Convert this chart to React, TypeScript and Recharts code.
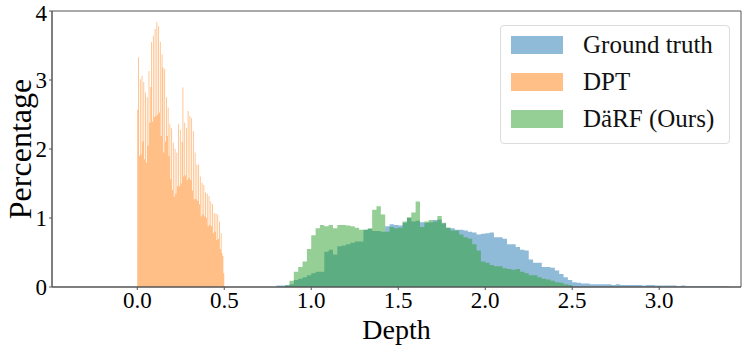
import {
  ComposedChart,
  Area,
  XAxis,
  YAxis,
  Legend,
  ReferenceArea,
} from 'recharts';

// histogram bins: left edge = start + i * bin
const DPT_START = 0;
const DPT_BIN = 0.005;
const dptValues = [
  2.57, 3.33, 1.9, 3.01, 1.92, 3.06, 2.11, 2.97, 1.85, 2.82,
  1.8, 2.75, 2.05, 3.13, 2.38, 2.9, 3.55, 2.4, 3.64, 2.46,
  3.74, 2.48, 3.84, 2.5, 3.78, 2.53, 3.55, 2.19, 3.37, 3.18,
  1.95, 3.16, 2.11, 2.75, 2.19, 2.6, 1.9, 2.36, 1.56, 2.3,
  1.41, 2.09, 1.31, 2.0, 1.35, 1.95, 1.46, 2.36, 1.46, 2.28,
  1.5, 2.1, 2.89, 1.6, 2.38, 1.62, 2.3, 1.55, 2.55, 1.58,
  2.48, 1.55, 2.45, 1.4, 2.26, 1.27, 1.95, 1.27, 1.77, 1.25,
  1.77, 1.2, 1.6, 1.02, 1.51, 1.05, 1.48, 1.02, 1.37, 1.0,
  1.35, 0.88, 1.32, 0.9, 1.24, 0.88, 1.2, 0.78, 1.07, 0.8,
  1.07, 0.68, 1.05, 0.7, 0.95, 0.55, 0.78, 0.49, 0.45, 0.2,
];

const GT_START = 0.8;
const GT_BIN = 0.025;
const gtValues = [
  0.02, 0.02, 0.03, 0.04, 0.1, 0.12, 0.14, 0.17, 0.2, 0.22,
  0.22, 0.51, 0.54, 0.47, 0.59, 0.6, 0.62, 0.64, 0.66, 0.66,
  0.83, 0.84, 0.81, 0.81, 0.8, 0.88, 0.91, 0.9, 0.89, 0.93,
  1.0, 0.95, 0.96, 0.94, 0.93, 0.94, 0.97, 0.98, 0.92, 0.86,
  0.85, 0.83, 0.83, 0.82, 0.8, 0.79, 0.76, 0.77, 0.78, 0.79,
  0.72, 0.72, 0.7, 0.62, 0.62, 0.58, 0.54, 0.53, 0.4, 0.35,
  0.35, 0.29, 0.29, 0.28, 0.24, 0.19, 0.14, 0.1, 0.07, 0.06,
  0.05, 0.05, 0.04, 0.04, 0.04, 0.04, 0.04, 0.03, 0.04, 0.03,
  0.03, 0.03, 0.03, 0.03, 0.02, 0.03, 0.03, 0.02, 0.02, 0.02,
  0.02, 0.02, 0.01, 0.02, 0.01, 0.01, 0.01, 0.01, 0.01, 0.01,
  0.01, 0.01, 0.01, 0.01,
];

const DARF_START = 0.85;
const DARF_BIN = 0.025;
const darfValues = [
  0.02, 0.09, 0.22, 0.29, 0.37, 0.55, 0.75, 0.85, 0.9, 0.88,
  0.9, 0.85, 0.9, 0.9, 0.89, 0.88, 0.86, 0.83, 0.83, 0.85,
  1.12, 1.17, 1.05, 0.8, 0.87, 0.85, 0.86, 0.95, 1.01, 1.08,
  1.24, 0.87, 0.95, 0.97, 0.95, 1.03, 0.93, 0.86, 0.82, 0.82,
  0.76, 0.72, 0.7, 0.62, 0.53, 0.37, 0.35, 0.32, 0.3, 0.3,
  0.27, 0.26, 0.25, 0.26, 0.22, 0.2, 0.17, 0.17, 0.14, 0.12,
  0.11, 0.09, 0.07, 0.06, 0.04, 0.03,
];

const xTicks = [0, 0.5, 1, 1.5, 2, 2.5, 3];
const yTicks = [0, 1, 2, 3, 4];

const SERIES = [
  { key: 'gt', name: 'Ground truth', color: '#1f77b4', swatch: '#8fbbd9' },
  { key: 'dpt', name: 'DPT', color: '#ff7f0e', swatch: '#ffbf86' },
  { key: 'darf', name: 'DäRF (Ours)', color: '#2ca02c', swatch: '#95cf95' },
];

// merge the three histograms into one table keyed by bin edge
function buildData() {
  const rows = new Map<string, any>();
  const put = (key: string, start: number, bin: number, values: number[]) => {
    const pts = [...values, 0];
    pts.forEach((v, i) => {
      const x = +(start + i * bin).toFixed(3);
      const k = x.toFixed(3);
      if (!rows.has(k)) rows.set(k, { x });
      rows.get(k)[key] = v;
    });
  };
  put('dpt', DPT_START, DPT_BIN, dptValues);
  put('gt', GT_START, GT_BIN, gtValues);
  put('darf', DARF_START, DARF_BIN, darfValues);
  return [...rows.values()].sort((a, b) => a.x - b.x);
}

const data = buildData();

const FONT = '"Liberation Serif", "Times New Roman", serif';

function renderLegend() {
  return (
    <div
      style={{
        border: '1px solid #dcdcdc',
        borderRadius: 4,
        background: 'rgba(255,255,255,0.8)',
        padding: '0 0 6px 0',
        fontFamily: FONT,
      }}
    >
      {SERIES.map((s) => (
        <div
          key={s.key}
          style={{ display: 'flex', alignItems: 'center', height: 37 }}
        >
          <div
            style={{
              width: 52,
              height: 18,
              marginLeft: 10,
              backgroundColor: s.swatch,
            }}
          />
          <span style={{ marginLeft: 20, fontSize: 25, color: '#111' }}>
            {s.name}
          </span>
        </div>
      ))}
    </div>
  );
}

export default function App() {
  return (
    <div
      style={{
        position: 'fixed',
        left: 0,
        top: 0,
        width: 747,
        height: 360,
        background: '#fff',
        fontFamily: FONT,
      }}
    >
      <ComposedChart
        width={747}
        height={360}
        data={data}
        margin={{ top: 11, right: 6, bottom: 0, left: 0 }}
      >
        <XAxis
          dataKey="x"
          type="number"
          domain={[-0.49, 3.47]}
          allowDataOverflow
          ticks={xTicks}
          tickFormatter={(v: number) => v.toFixed(1)}
          height={73}
          tickSize={3}
          tickMargin={2}
          stroke="#555"
          tick={{ fill: '#000', fontSize: 23, fontFamily: FONT }}
          label={{
            value: 'Depth',
            position: 'center',
            dy: 6,
            style: { fontSize: 28, fill: '#000', fontFamily: FONT },
          }}
        />
        <YAxis
          type="number"
          domain={[0, 4]}
          ticks={yTicks}
          width={52}
          tickSize={3}
          tickMargin={2}
          stroke="#555"
          tick={{ fill: '#000', fontSize: 23, fontFamily: FONT }}
          label={{
            value: 'Percentage',
            angle: -90,
            position: 'center',
            dx: -6,
            style: { fontSize: 32, fill: '#000', fontFamily: FONT, textAnchor: 'middle' },
          }}
        />
        {SERIES.map((s) => (
          <Area
            key={s.key}
            dataKey={s.key}
            name={s.name}
            type="stepAfter"
            connectNulls
            stroke="none"
            fill={s.color}
            fillOpacity={0.5}
            isAnimationActive={false}
            dot={false}
            activeDot={false}
          />
        ))}
        <ReferenceArea
          x1={-0.49}
          x2={3.47}
          y1={0}
          y2={4}
          fill="none"
          stroke="#555"
          strokeWidth={1}
        />
        <Legend
          layout="vertical"
          align="center"
          verticalAlign="middle"
          content={renderLegend}
          wrapperStyle={{ left: 500, top: 25, width: 230 }}
        />
      </ComposedChart>
    </div>
  );
}
